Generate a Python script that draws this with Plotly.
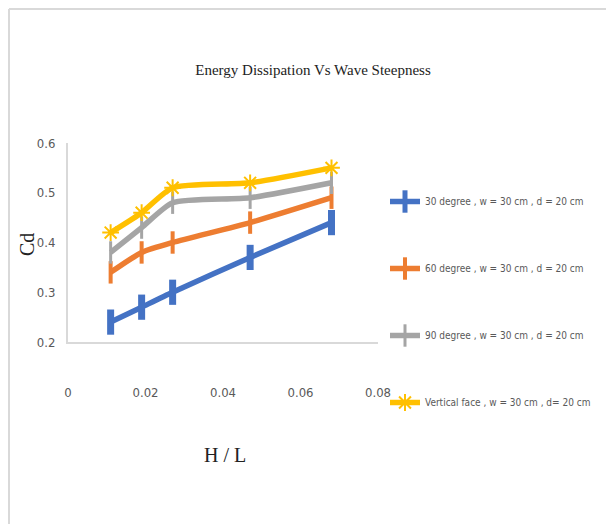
import plotly.graph_objects as go

hl = [0.011, 0.019, 0.027, 0.047, 0.068]
cd_30 = [0.24, 0.27, 0.30, 0.37, 0.44]
cd_60 = [0.34, 0.38, 0.40, 0.44, 0.49]
cd_90 = [0.38, 0.43, 0.48, 0.49, 0.52]
cd_vert = [0.42, 0.46, 0.51, 0.52, 0.55]
names = ["30 degree , w = 30 cm , d = 20 cm",
         "60 degree , w = 30 cm , d = 20 cm",
         "90 degree , w = 30 cm , d = 20 cm",
         "Vertical face , w = 30 cm , d= 20 cm"]
colors = ["#4472C4", "#ED7D31", "#A5A5A5", "#FFC000"]
series = [cd_30, cd_60, cd_90, cd_vert]
markers = [dict(symbol="line-ns", size=18, line=dict(width=7, color=colors[0])),
           dict(symbol="line-ns", size=16, line=dict(width=4, color=colors[1])),
           dict(symbol="line-ns", size=16, line=dict(width=3, color=colors[2])),
           dict(symbol="asterisk-open", size=14, line=dict(width=2, color=colors[3]))]

NARROW = "DejaVu Sans Condensed, Liberation Sans Narrow, Arial Narrow, sans-serif"
H = 524

fig = go.Figure()
for i, (nm, ys) in enumerate(zip(names, series)):
    fig.add_trace(go.Scatter(
        x=hl, y=ys, name=nm, mode="lines+markers",
        line=dict(color=colors[i], width=5.5, shape="spline", smoothing=0.6),
        marker=dict(color=colors[i], **markers[i]),
        legendgroup=str(i)))

fig.update_layout(
    width=614, height=H,
    margin=dict(l=60, r=244, t=135, b=190, autoexpand=False),
    paper_bgcolor="white", plot_bgcolor="white",
    title=dict(text="Energy Dissipation Vs Wave Steepness", xref="container", x=305 / 614,
               xanchor="center", yref="container", y=1 - 62 / H, yanchor="middle",
               font=dict(family="Liberation Serif", size=15, color="#222")),
    xaxis=dict(range=[0, 0.08], tickvals=[0, 0.02, 0.04, 0.06, 0.08],
               ticktext=["0", "0.02", "0.04", "0.06", "0.08"],
               showgrid=False, zeroline=False, showline=True, linecolor="#d9d9d9",
               linewidth=2, ticks="", ticklabelstandoff=37,
               tickfont=dict(family=NARROW, size=13, color="#595959")),
    yaxis=dict(range=[0.2, 0.6], tickvals=[0.2, 0.3, 0.4, 0.5, 0.6],
               ticktext=["0.2", "0.3", "0.4", "0.5", "0.6"],
               showgrid=False, zeroline=False, showline=True, linecolor="#d9d9d9",
               linewidth=2, ticks="", ticklabelstandoff=8,
               tickfont=dict(family=NARROW, size=13, color="#595959")),
    legend=dict(xref="container", x=377 / 614, xanchor="left",
                yref="container", y=1 - 179 / H, yanchor="top",
                tracegroupgap=48, itemwidth=30, maxheight=1,
                font=dict(family=NARROW, size=10, color="#595959"),
                bgcolor="rgba(0,0,0,0)"),
    showlegend=True,
    annotations=[
        dict(text="Cd", xref="paper", yref="paper", x=(27 - 68) / 310, y=(342 - 245) / 199,
             showarrow=False, textangle=-90, xanchor="center", yanchor="middle",
             font=dict(family="Liberation Serif", size=20, color="#222")),
        dict(text="H / L", xref="paper", yref="paper", x=(225 - 68) / 310, y=(342 - 455) / 199,
             showarrow=False, xanchor="center", yanchor="middle",
             font=dict(family="Liberation Serif", size=20, color="#222")),
    ],
    shapes=[
        dict(type="line", xref="paper", yref="paper", x0=(9 - 68) / 310, x1=(622 - 68) / 310,
             y0=(342 - 9) / 199, y1=(342 - 9) / 199, line=dict(color="#d9d9d9", width=2)),
        dict(type="line", xref="paper", yref="paper", x0=(9 - 68) / 310, x1=(9 - 68) / 310,
             y0=(342 - 9) / 199, y1=(342 - 532) / 199, line=dict(color="#d9d9d9", width=2)),
    ],
)
fig.write_html("out.html")
